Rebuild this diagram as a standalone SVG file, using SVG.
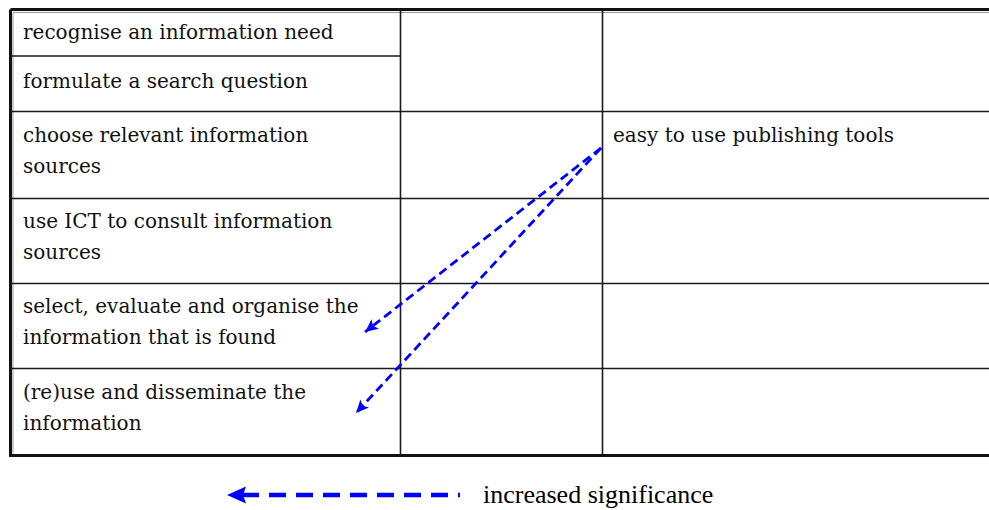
<svg xmlns="http://www.w3.org/2000/svg" width="989" height="510" viewBox="0 0 989 510">
<style>
.cell{font-family:"DejaVu Serif","Liberation Serif",serif;font-size:20px;fill:#111}
.grid{stroke:#1a1a1a;stroke-width:1.6;fill:none}
.frame{stroke:#111;stroke-width:3;fill:none}
.frame2{stroke:#999;stroke-width:1;fill:none}
.con{stroke:#0000ff;stroke-width:2.8;stroke-dasharray:9 5;fill:none}
.legend-line{stroke:#0000ff;stroke-width:4.5;stroke-dasharray:17 10;fill:none}
.legend-text{font-family:"Liberation Serif","Times New Roman",serif;font-size:26px;fill:#000}
</style>
<defs>
<marker id="ah" markerUnits="userSpaceOnUse" markerWidth="14" markerHeight="12" refX="13" refY="6" orient="auto">
<path d="M0,0 L13,6 L0,12 L3,6 Z" fill="#0000ff"/>
</marker>
</defs>
<rect width="989" height="510" fill="#fff"/>
<g id="table">
<path class="frame2" d="M13,12.5 V453.5 M13,12.5 H989"/>
<path class="frame" d="M10.5,9.5 H989 M10.5,9.5 V455.5 M9,455.5 H989"/>
<path class="grid" d="M400.5,10 V455 M602.5,10 V455 M11,56 H400.5 M11,111.5 H989 M11,198.5 H989 M11,283.5 H989 M11,368.5 H989"/>
</g>
<g id="cell-recognise"><text class="cell" x="23" y="39">recognise an information need</text></g>
<g id="cell-formulate"><text class="cell" x="23" y="88">formulate a search question</text></g>
<g id="cell-choose"><text class="cell" x="23" y="142">choose relevant information</text><text class="cell" x="23" y="173">sources</text></g>
<g id="cell-use-ict"><text class="cell" x="23" y="228">use ICT to consult information</text><text class="cell" x="23" y="259">sources</text></g>
<g id="cell-select"><text class="cell" x="23" y="313">select, evaluate and organise the</text><text class="cell" x="23" y="344">information that is found</text></g>
<g id="cell-reuse"><text class="cell" x="23" y="399">(re)use and disseminate the</text><text class="cell" x="23" y="430">information</text></g>
<g id="cell-publishing"><text class="cell" x="613" y="142">easy to use publishing tools</text></g>
<g id="connectors">
<path class="con" d="M601,148 L365,332" marker-end="url(#ah)"/>
<path class="con" d="M601,148 L356,413" marker-end="url(#ah)"/>
</g>
<g id="legend">
<path class="legend-line" d="M242,495 H460"/>
<polygon points="227,495 246,486.5 243,495 246,503.5" fill="#0000ff"/>
<text class="legend-text" x="483" y="503">increased significance</text>
</g>
</svg>
